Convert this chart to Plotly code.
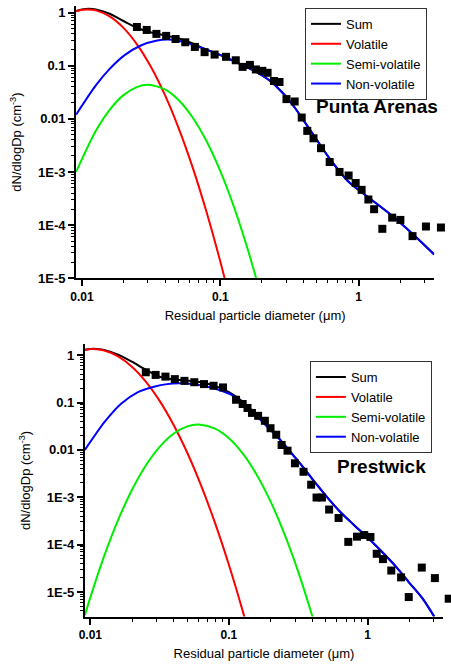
import plotly.graph_objects as go

# ---------------- Punta Arenas ----------------
pa_obs_d = [0.02494, 0.02938, 0.0345, 0.0406, 0.0475, 0.0558, 0.0655, 0.0770, 0.0910, 0.110,
            0.1294, 0.145, 0.1637, 0.1808, 0.2014, 0.2198, 0.2443, 0.268, 0.301, 0.345,
            0.388, 0.4256, 0.472, 0.535, 0.618, 0.728, 0.847, 0.953, 1.052, 1.177,
            1.295, 1.485, 1.75, 2.005, 2.455, 3.07, 3.94]
pa_obs_n = [0.535, 0.471, 0.397, 0.364, 0.318, 0.276, 0.2256, 0.180, 0.162, 0.147,
            0.1265, 0.095, 0.1035, 0.0850, 0.080, 0.0735, 0.0515, 0.0493, 0.0235, 0.0212,
            0.01057, 0.00593, 0.0043, 0.0028, 0.00154, 0.0010, 8.57e-4, 6.2e-4, 4.6e-4, 3.03e-4,
            1.99e-4, 8.5e-5, 1.38e-4, 1.25e-4, 6.2e-5, 9.4e-5, 9.0e-5]

pa_sum_d = [0.00906, 0.01, 0.01122, 0.01259, 0.01585, 0.01995, 0.02512, 0.03162, 0.03981, 0.05012,
            0.0631, 0.07943, 0.1, 0.1374, 0.1807, 0.2249, 0.2799, 0.3483, 0.3882, 0.4710,
            0.6180, 0.8356, 1.099, 1.702, 2.495, 3.524]
pa_sum_n = [1.071, 1.146, 1.178, 1.149, 0.949, 0.694, 0.512, 0.422, 0.373, 0.324,
            0.263, 0.200, 0.159, 0.1096, 0.0776, 0.0537, 0.0316, 0.0158, 0.01047, 0.00501,
            0.00178, 6.76e-4, 3.80e-4, 1.58e-4, 6.6e-5, 2.8e-5]

pa_vol_d = [0.00906, 0.01, 0.01096, 0.01259, 0.01585, 0.01995, 0.02512, 0.03162, 0.03981, 0.05012,
            0.0631, 0.07943, 0.1, 0.1122]
pa_vol_n = [1.058, 1.127, 1.148, 1.10, 0.847, 0.515, 0.247, 0.0933, 0.0279, 0.00656,
            0.00122, 1.78e-4, 2.06e-5, 6.4e-6]

pa_semi_d = [0.00906, 0.01259, 0.01585, 0.01995, 0.02512, 0.0302, 0.03981, 0.05012, 0.0631, 0.07943,
             0.1, 0.1259, 0.1585, 0.182, 0.1995]
pa_semi_n = [1.0e-3, 5.94e-3, 0.01479, 0.0279, 0.0400, 0.0437, 0.0358, 0.0224, 0.0106, 3.82e-3,
             1.04e-3, 2.16e-4, 3.39e-5, 9.8e-6, 4.1e-6]

pa_nonvol_d = [0.00906, 0.01259, 0.01585, 0.02023, 0.02661, 0.03499, 0.04121, 0.05012, 0.06053, 0.08395,
               0.1045, 0.1374, 0.1807, 0.2249, 0.2799, 0.3483, 0.3882, 0.4710, 0.6180, 0.8356,
               1.099, 1.702, 2.495, 3.524]
pa_nonvol_n = [0.0120, 0.0427, 0.0871, 0.1567, 0.2404, 0.2979, 0.3105, 0.2951, 0.2570, 0.1905,
               0.1514, 0.1096, 0.0776, 0.0537, 0.0316, 0.0158, 0.01047, 0.00501, 0.00178, 6.76e-4,
               3.80e-4, 1.58e-4, 6.6e-5, 2.8e-5]

# ---------------- Prestwick ----------------
pw_obs_d = [0.02512, 0.02958, 0.03483, 0.04069, 0.04775, 0.05623, 0.0661, 0.0774, 0.0906, 0.1125,
            0.1256, 0.1361, 0.1466, 0.1623, 0.1816, 0.1995, 0.2193, 0.2399, 0.2646, 0.2992,
            0.3451, 0.3917, 0.4285, 0.4688, 0.528, 0.618, 0.726, 0.839, 0.946, 1.049,
            1.164, 1.291, 1.483, 1.745, 1.982, 2.461, 3.06, 3.85]
pw_obs_n = [0.436, 0.383, 0.353, 0.312, 0.287, 0.2686, 0.2453, 0.226, 0.2084, 0.1144,
            0.0931, 0.0768, 0.0604, 0.0524, 0.0412, 0.0287, 0.0209, 0.0127, 0.00962, 0.00521,
            0.00345, 0.00184, 9.86e-4, 9.86e-4, 5.5e-4, 3.65e-4, 1.14e-4, 1.47e-4, 1.59e-4, 1.45e-4,
            6.4e-5, 4.94e-5, 2.83e-5, 2.03e-5, 7.8e-6, 3.27e-5, 1.96e-5, 7.2e-6]

pw_sum_d = [0.00914, 0.01, 0.01122, 0.01259, 0.01585, 0.01995, 0.02512, 0.03162, 0.03981, 0.05012,
            0.0631, 0.07943, 0.1, 0.1259, 0.1585, 0.1995, 0.2415, 0.3020, 0.3548, 0.4266,
            0.5012, 0.6310, 0.7943, 1.0, 1.259, 1.585, 1.995, 2.512, 3.027]
pw_sum_n = [1.309, 1.358, 1.356, 1.296, 1.031, 0.729, 0.493, 0.351, 0.306, 0.290,
            0.268, 0.225, 0.165, 0.104, 0.0543, 0.0268, 0.01479, 6.76e-3, 3.80e-3, 1.91e-3,
            1.07e-3, 5.01e-4, 2.63e-4, 1.41e-4, 7.24e-5, 3.55e-5, 1.58e-5, 7.08e-6, 3.02e-6]

pw_vol_d = [0.00914, 0.01, 0.01047, 0.01259, 0.01585, 0.01995, 0.02512, 0.03162, 0.03981, 0.05012,
            0.0631, 0.07943, 0.1, 0.1259, 0.1318]
pw_vol_n = [1.299, 1.343, 1.349, 1.258, 0.946, 0.573, 0.278, 0.1086, 0.0340, 8.59e-3,
            1.74e-3, 2.83e-4, 3.70e-5, 3.89e-6, 2.4e-6]

pw_semi_d = [0.00914, 0.01, 0.01259, 0.01585, 0.01995, 0.02512, 0.03162, 0.03981, 0.05012, 0.06026,
             0.07943, 0.1, 0.1259, 0.1585, 0.1995, 0.2512, 0.3162, 0.3981, 0.4169]
pw_semi_n = [3.24e-6, 7.67e-6, 5.77e-5, 3.29e-4, 1.42e-3, 4.67e-3, 0.01161, 0.02193, 0.0314, 0.0343,
             0.0281, 0.01758, 8.34e-3, 3.0e-3, 8.18e-4, 1.69e-4, 2.66e-5, 3.17e-6, 2.0e-6]

pw_nonvol_d = [0.00914, 0.01268, 0.01667, 0.02188, 0.02877, 0.03573, 0.04457, 0.06180, 0.08110, 0.1067,
               0.1403, 0.1841, 0.2415, 0.3020, 0.3548, 0.4266, 0.5012, 0.6310, 0.7943, 1.0,
               1.259, 1.585, 1.995, 2.512, 3.027]
pw_nonvol_n = [0.01, 0.0389, 0.0940, 0.1641, 0.2153, 0.2449, 0.2541, 0.2333, 0.1928, 0.1400,
               0.0740, 0.0332, 0.01479, 6.76e-3, 3.80e-3, 1.91e-3, 1.07e-3, 5.01e-4, 2.63e-4, 1.41e-4,
               7.24e-5, 3.55e-5, 1.58e-5, 7.08e-6, 3.02e-6]

x_tickvals = [0.01, 0.1, 1]
x_ticktext = ["0.01", "0.1", "1"]
y_tickvals = [1e-5, 1e-4, 1e-3, 0.01, 0.1, 1]
y_ticktext = ["1E-5", "1E-4", "1E-3", "0.01", "0.1", "1"]

series_names = ["Sum", "Volatile", "Semi-volatile", "Non-volatile"]
series_colors = ["#000000", "#ff0000", "#00ee00", "#0000ff"]

FONT = "Liberation Sans, Arial, sans-serif"


def minor_log_ticks(lo_exp, hi_exp):
    return [m * 10.0 ** e for e in range(lo_exp, hi_exp + 1) for m in range(2, 10)]


# axis geometry (domain in paper fraction, range in log10 units)
top_xdom, top_xrng = [71 / 451, 434 / 451], [-2.043, 0.547]
bot_xdom, bot_xrng = [80 / 451, 443 / 451], [-2.039, 0.545]
top_ydom, top_yrng = [1 - 281 / 666, 1 - 5 / 666], [-5.0, 0.125]
bot_ydom, bot_yrng = [1 - 624 / 666, 1 - 348 / 666], [-5.52, 0.23]


def extended(dom, rng):
    # same scale as the visible axis, stretched to the right paper edge so that
    # measurements beyond the last tick are still drawn
    per = (rng[1] - rng[0]) / (dom[1] - dom[0])
    return [dom[0], 1.0], [rng[0], rng[0] + per * (1.0 - dom[0])]


top_xdom_ext, top_xrng_ext = extended(top_xdom, top_xrng)
bot_xdom_ext, bot_xrng_ext = extended(bot_xdom, bot_xrng)

fig = go.Figure()

panels = [
    ("x", "x3", "y", "legend", [(pa_sum_d, pa_sum_n), (pa_vol_d, pa_vol_n), (pa_semi_d, pa_semi_n),
                                (pa_nonvol_d, pa_nonvol_n)], (pa_obs_d, pa_obs_n)),
    ("x2", "x4", "y2", "legend2", [(pw_sum_d, pw_sum_n), (pw_vol_d, pw_vol_n), (pw_semi_d, pw_semi_n),
                                   (pw_nonvol_d, pw_nonvol_n)], (pw_obs_d, pw_obs_n)),
]

for xa, xobs, ya, leg, curves, obs in panels:
    for name, color, (d, n) in zip(series_names, series_colors, curves):
        fig.add_trace(go.Scatter(
            x=d, y=n, mode="lines", name=name, xaxis=xa, yaxis=ya, legend=leg,
            line=dict(color=color, width=2, shape="spline", smoothing=0.8),
        ))
    fig.add_trace(go.Scatter(
        x=obs[0], y=obs[1], mode="markers", showlegend=False, xaxis=xobs, yaxis=ya,
        marker=dict(symbol="square", size=8, color="#000000"), cliponaxis=False,
    ))

axis_common = dict(
    type="log", showgrid=False, zeroline=False, showline=True, linecolor="#000000", linewidth=2,
    ticks="outside", ticklen=6, tickwidth=2, tickcolor="#000000",
)
minor_x = dict(ticks="outside", ticklen=3, tickwidth=1, tickcolor="#000000", showgrid=False,
               tickmode="array", tickvals=minor_log_ticks(-3, 0))
minor_y = dict(ticks="outside", ticklen=3, tickwidth=1, tickcolor="#000000", showgrid=False,
               tickmode="array", tickvals=minor_log_ticks(-6, 0))
xtickfont = dict(family=FONT, size=12, color="#000000", weight="bold")
ytickfont = dict(family=FONT, size=13, color="#000000", weight="bold")

xtitle = dict(text="Residual particle diameter (\u03bcm)", font=dict(family=FONT, size=13, color="#000000"),
              standoff=8)
ytitle = dict(text="dN/dlogDp (cm<sup>-3</sup>)", font=dict(family=FONT, size=13, color="#000000"),
              standoff=13)

hidden_x = dict(type="log", visible=False, showgrid=False, zeroline=False, fixedrange=True)

legend_common = dict(xanchor="left", yanchor="top", bgcolor="white", bordercolor="#333333",
                     borderwidth=1, font=dict(family=FONT, size=13, color="#000000"),
                     itemwidth=30, tracegroupgap=0)

fig.update_layout(
    width=451, height=666, margin=dict(l=0, r=0, t=0, b=0),
    paper_bgcolor="white", plot_bgcolor="rgba(0,0,0,0)",
    font=dict(family=FONT, color="#000000"),
    xaxis=dict(axis_common, domain=top_xdom, range=top_xrng, anchor="y",
               tickmode="array", tickvals=x_tickvals, ticktext=x_ticktext, tickfont=xtickfont,
               minor=minor_x, title=xtitle),
    yaxis=dict(axis_common, domain=top_ydom, range=top_yrng, anchor="x",
               tickmode="array", tickvals=y_tickvals, ticktext=y_ticktext, tickfont=ytickfont,
               minor=minor_y, title=ytitle),
    xaxis2=dict(axis_common, domain=bot_xdom, range=bot_xrng, anchor="y2",
                tickmode="array", tickvals=x_tickvals, ticktext=x_ticktext, tickfont=xtickfont,
                minor=minor_x, title=xtitle),
    yaxis2=dict(axis_common, domain=bot_ydom, range=bot_yrng, anchor="x2",
                tickmode="array", tickvals=y_tickvals, ticktext=y_ticktext, tickfont=ytickfont,
                minor=minor_y, title=ytitle),
    xaxis3=dict(hidden_x, domain=top_xdom_ext, range=top_xrng_ext, anchor="y"),
    xaxis4=dict(hidden_x, domain=bot_xdom_ext, range=bot_xrng_ext, anchor="y2"),
    legend=dict(legend_common, x=303 / 451, y=1 - 7 / 666),
    legend2=dict(legend_common, x=308 / 451, y=1 - 365 / 666),
    annotations=[
        dict(text="<b>Punta Arenas</b>", xref="paper", yref="paper", x=376 / 451, y=1 - 107 / 666,
             xanchor="center", yanchor="middle", showarrow=False,
             font=dict(family=FONT, size=19, color="#000000")),
        dict(text="<b>Prestwick</b>", xref="paper", yref="paper", x=381 / 451, y=1 - 472 / 666,
             xanchor="center", yanchor="middle", showarrow=False,
             font=dict(family=FONT, size=19, color="#000000")),
    ],
)

fig.write_html("out.html")
